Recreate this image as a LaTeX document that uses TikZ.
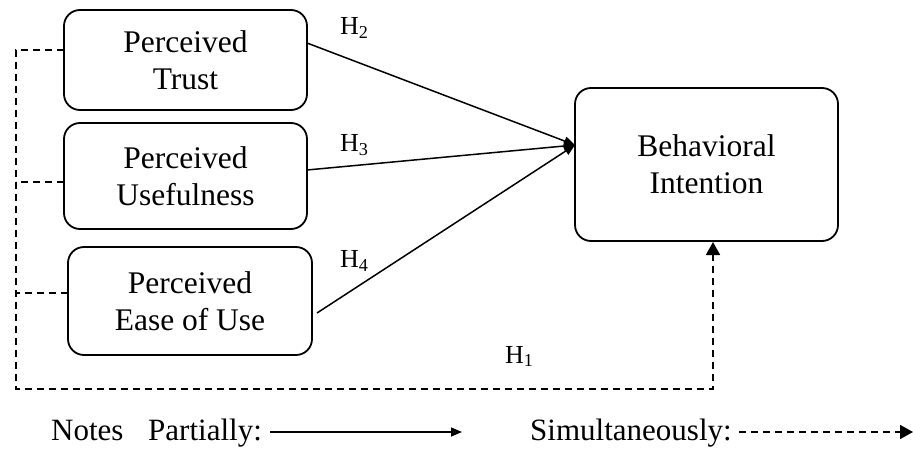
\documentclass[tikz,border=0pt]{standalone}
\usepackage{fontspec}
\setmainfont{Liberation Serif}
\usetikzlibrary{arrows.meta}
\begin{document}
\begin{tikzpicture}[x=1pt,y=-1pt,
  box/.style={draw, line width=1.8pt, rounded corners=16pt, align=center,
    font=\fontsize{31.5}{37}\selectfont, inner sep=0pt},
  solidarrow/.style={line width=1.5pt, -{Triangle[length=11pt,width=9pt]}},
  dashline/.style={line width=1.7pt, dash pattern=on 7pt off 5pt},
  dasharrow/.style={dashline, -{Triangle[length=13pt,width=14pt]}},
  hlabel/.style={anchor=base west, inner sep=0pt, font=\fontsize{26}{30}\selectfont},
  legend/.style={anchor=base west, inner sep=0pt, font=\fontsize{31}{36}\selectfont}]
\useasboundingbox (0,0) rectangle (913,449);

% boxes
\node[box, minimum width=243pt, minimum height=100pt] (trust) at (185.5,60) {Perceived\\Trust};
\node[box, minimum width=243pt, minimum height=106pt] (useful) at (185.5,176) {Perceived\\Usefulness};
\node[box, minimum width=244pt, minimum height=108pt] (ease) at (190,301) {Perceived\\Ease of Use};
\node[box, minimum width=263pt, minimum height=153pt] (bi) at (706.5,164.5) {Behavioral\\Intention};

% solid arrows
\coordinate (tgt) at (575,145);
\coordinate (s2) at (307,43);
\coordinate (s3) at (307,170);
\coordinate (s4) at (317,313);
\draw[solidarrow] (s2) -- (tgt);
\draw[solidarrow] (s3) -- (tgt);
\draw[solidarrow] (s4) -- (tgt);

\node[hlabel] (h2) at (340,35) {H\textsubscript{2}};
\node[hlabel] (h3) at (340,152) {H\textsubscript{3}};
\node[hlabel] (h4) at (340,268) {H\textsubscript{4}};
\node[hlabel] (h1) at (505,363) {H\textsubscript{1}};

% dashed connectors
\coordinate (d1) at (64,50);
\coordinate (d2) at (64,182);
\coordinate (d3) at (68,293);
\coordinate (c1) at (16,50);
\coordinate (c2) at (16,182);
\coordinate (c3) at (16,293);
\coordinate (c4) at (16,389);
\coordinate (c5) at (713,389);
\coordinate (c6) at (713,242);
\draw[dasharrow] (d1) -- (c1) -- (c4) -- (c5) -- (c6);
\draw[dashline] (d2) -- (c2);
\draw[dashline] (d3) -- (c3);

% legend
\node[legend] (notes) at (51,440) {Notes};
\node[legend] (part) at (148,440) {Partially:};
\coordinate (la1) at (270,432);
\coordinate (la2) at (462,432);
\draw[solidarrow] (la1) -- (la2);
\node[legend] (simu) at (530,440) {Simultaneously:};
\coordinate (lb1) at (739,432);
\coordinate (lb2) at (913,432);
\draw[dasharrow] (lb1) -- (lb2);
\end{tikzpicture}
\end{document}
